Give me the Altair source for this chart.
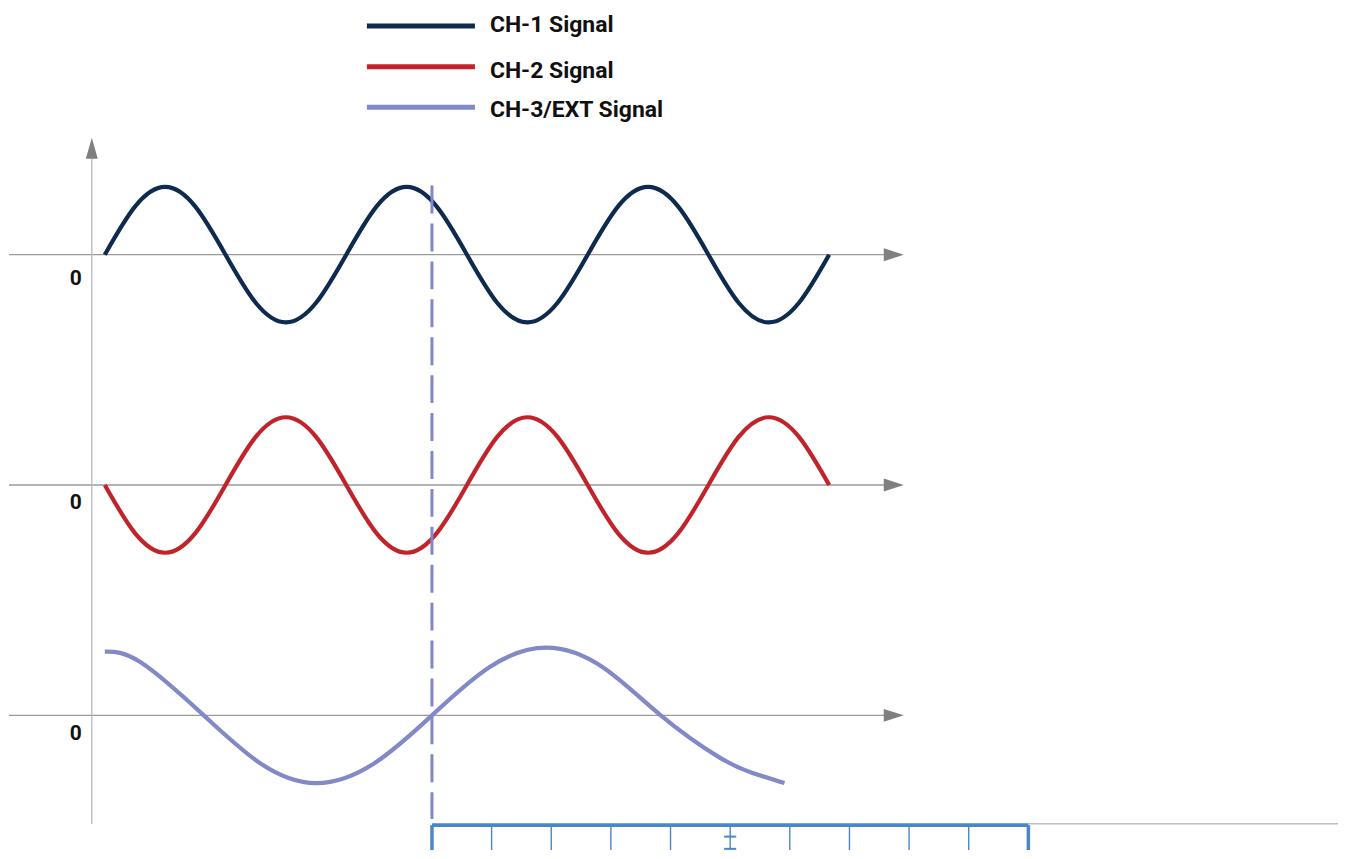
import altair as alt
import pandas as pd

# ---------------- data ----------------
# time in units where CH-1 period = 4; amplitude in units of one signal peak
ch_names = ["CH-1 Signal", "CH-2 Signal", "CH-3/EXT Signal"]
ch_colors = ["#0f2a4f", "#c1232b", "#8189c6"]
ch_offsets = [6.8, 3.4, 0.0]

ch1_t = [0, 0.5, 1, 1.5, 2, 2.5, 3, 3.5, 4, 4.5, 5, 5.5, 6, 6.5, 7, 7.5, 8,
         8.5, 9, 9.5, 10, 10.5, 11, 11.5, 12]
ch1_v = [0, 0.71, 1, 0.71, 0, -0.71, -1, -0.71, 0, 0.71, 1, 0.71, 0, -0.71, -1,
         -0.71, 0, 0.71, 1, 0.71, 0, -0.71, -1, -0.71, 0]
ch2_t = ch1_t
ch2_v = [0, -0.71, -1, -0.71, 0, 0.71, 1, 0.71, 0, -0.71, -1, -0.71, 0, 0.71, 1,
         0.71, 0, -0.71, -1, -0.71, 0, 0.71, 1, 0.71, 0]
ch3_t = [0, 0.6, 1.64, 2.58, 3.50, 4.46, 5.42, 6.37, 7.31, 8.25, 9.21, 10.18, 10.73, 11.26]
ch3_v = [0.94, 0.78, 0, -0.71, -1, -0.71, 0, 0.71, 1, 0.71, 0, -0.62, -0.85, -1.0]

zero_labels = ["0", "0", "0"]
zero_label_v = [6.44, 3.14, -0.27]

trigger_t = 5.42
scale_divisions = 10
scale_div = 0.988
scale_marker_div = 5

# ---------------- layout ----------------
W, H = 1331, 843
X_DOM = [-1.587, 20.413]
Y_DOM = [-1.988, 10.427]
xs = alt.Scale(domain=X_DOM, nice=False, zero=False)
ys = alt.Scale(domain=Y_DOM, nice=False, zero=False)

AXIS_LEFT = X_DOM[0]
AXIS_RIGHT = 12.91
ARROW_T = 13.07
YAXIS_T = -0.215
YAXIS_TOP = 8.22
YAXIS_BOTTOM = -1.605
YARROW_V = 8.37

def X(f="t"):
    return alt.X(f"{f}:Q", scale=xs, axis=None)

def Y(f="v"):
    return alt.Y(f"{f}:Q", scale=ys, axis=None)

layers = []

# horizontal baselines
base_df = pd.DataFrame({"t": [AXIS_LEFT] * 3, "t2": [AXIS_RIGHT] * 3, "v": ch_offsets})
layers.append(alt.Chart(base_df).mark_rule(color="#9a9a9a", strokeWidth=1.3).encode(
    x=X("t"), x2="t2:Q", y=Y("v")))

# vertical axis
vax_df = pd.DataFrame({"t": [YAXIS_T], "v": [YAXIS_TOP], "v2": [YAXIS_BOTTOM]})
layers.append(alt.Chart(vax_df).mark_rule(color="#b8b8b8", strokeWidth=1.3).encode(
    x=X("t"), y=Y("v"), y2="v2:Q"))

# arrow heads
arr_df = pd.DataFrame({"t": [ARROW_T] * 3, "v": ch_offsets})
layers.append(alt.Chart(arr_df).mark_point(
    shape="M-1,-0.65L1,0L-1,0.65Z", size=400, filled=True, opacity=1,
    color="#7f7f7f").encode(x=X("t"), y=Y("v")))
varr_df = pd.DataFrame({"t": [YAXIS_T], "v": [YARROW_V]})
layers.append(alt.Chart(varr_df).mark_point(
    shape="M-0.57,1L0,-1L0.57,1Z", size=441, filled=True, opacity=1,
    color="#7f7f7f").encode(x=X("t"), y=Y("v")))

# zero labels
zl_df = pd.DataFrame({"t": [-0.48] * 3, "v": zero_label_v, "label": zero_labels})
layers.append(alt.Chart(zl_df).mark_text(
    font="Roboto", fontWeight="bold", fontSize=21, color="#111111",
    align="center", baseline="middle").encode(x=X("t"), y=Y("v"), text="label:N"))

# signals
series = [(ch1_t, ch1_v), (ch2_t, ch2_v), (ch3_t, ch3_v)]
for (ts, vs), off, col in zip(series, ch_offsets, ch_colors):
    df = pd.DataFrame({"t": ts, "v": [off + v for v in vs]})
    layers.append(alt.Chart(df).mark_line(
        color=col, strokeWidth=4.2, interpolate="natural", strokeCap="butt").encode(
        x=X("t"), y=Y("v")))

# trigger dashed line
trig_df = pd.DataFrame({"t": [trigger_t], "v": [7.82], "v2": [-1.53]})
layers.append(alt.Chart(trig_df).mark_rule(
    color="#7f88c9", strokeWidth=3, strokeDash=[28, 10]).encode(
    x=X("t"), y=Y("v"), y2="v2:Q"))

# bottom time scale
SCALE_TOP = -1.62
SCALE_BOTTOM = Y_DOM[0]
scale_end = trigger_t + scale_divisions * scale_div
gray_df = pd.DataFrame({"t": [scale_end], "t2": [20.43], "v": [SCALE_TOP + 0.02]})
layers.append(alt.Chart(gray_df).mark_rule(color="#bdbdbd", strokeWidth=1.3).encode(
    x=X("t"), x2="t2:Q", y=Y("v")))
tick_t = [trigger_t + i * scale_div for i in range(scale_divisions + 1)]
tick_w = [3.5 if i in (0, scale_divisions) else 1.4 for i in range(scale_divisions + 1)]
tick_df = pd.DataFrame({"t": tick_t, "v": [SCALE_TOP] * len(tick_t),
                        "v2": [SCALE_BOTTOM] * len(tick_t), "w": tick_w})
layers.append(alt.Chart(tick_df).mark_rule(color="#4a86c8").encode(
    x=X("t"), y=Y("v"), y2="v2:Q",
    strokeWidth=alt.StrokeWidth("w:Q", scale=None, legend=None)))
top_df = pd.DataFrame({"t": [trigger_t], "t2": [scale_end], "v": [SCALE_TOP]})
layers.append(alt.Chart(top_df).mark_rule(color="#4a86c8", strokeWidth=4).encode(
    x=X("t"), x2="t2:Q", y=Y("v")))
mk_t = trigger_t + scale_marker_div * scale_div
mk_df = pd.DataFrame({"t": [mk_t - 0.1] * 2, "t2": [mk_t + 0.1] * 2, "v": [-1.79, -1.97]})
layers.append(alt.Chart(mk_df).mark_rule(color="#4a86c8", strokeWidth=2).encode(
    x=X("t"), x2="t2:Q", y=Y("v")))

# legend (manual)
leg_line_v = [10.177, 9.573, 8.976]
leg_text_v = [10.093, 9.415, 8.826]
for name, col, lv in zip(ch_names, ch_colors, leg_line_v):
    ldf = pd.DataFrame({"t": [4.342], "t2": [6.132], "v": [lv]})
    layers.append(alt.Chart(ldf).mark_rule(color=col, strokeWidth=5).encode(
        x=X("t"), x2="t2:Q", y=Y("v")))
lt_df = pd.DataFrame({"t": [6.38] * 3, "v": leg_text_v, "label": ch_names})
layers.append(alt.Chart(lt_df).mark_text(
    font="Roboto", fontWeight="bold", fontSize=23, color="#111111",
    align="left", baseline="alphabetic").encode(x=X("t"), y=Y("v"), text="label:N"))

chart = alt.layer(*layers).properties(
    width=W, height=H, padding=0
).configure_view(stroke=None)

chart.save("out.html", embed_options={"renderer": "svg", "actions": False})
